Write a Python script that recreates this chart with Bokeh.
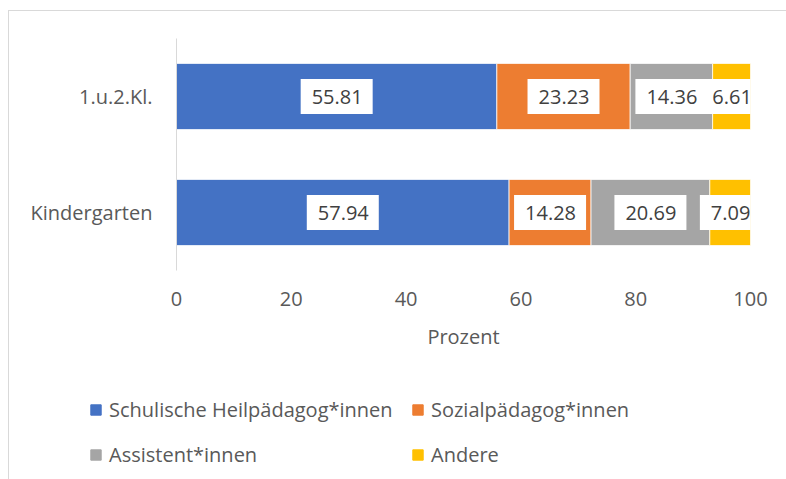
from bokeh.plotting import figure
from bokeh.models import Range1d, FactorRange, Legend, LegendItem, ColumnDataSource, FixedTicker
from bokeh.core.properties import value
from bokeh.embed import file_html
from bokeh.resources import INLINE

# ---- data ----
categories = ["Kindergarten", "1.u.2.Kl."]
series_names = ["Schulische Heilpädagog*innen", "Sozialpädagog*innen", "Assistent*innen", "Andere"]
schulische = [57.94, 55.81]
sozial = [14.28, 23.23]
assistent = [20.69, 14.36]
andere = [7.09, 6.61]
x_ticks = [0, 20, 40, 60, 80, 100]
x_label = "Prozent"

# ---- style ----
colors = ["#4472C4", "#ED7D31", "#A5A5A5", "#FFC000"]
FONT = "Open Sans"
GRAY = "#595959"
FS = "20px"
LINE = "#D9D9D9"

keys = ["s0", "s1", "s2", "s3"]
series = [schulische, sozial, assistent, andere]
src = ColumnDataSource(dict(cat=categories, **{k: v for k, v in zip(keys, series)}))

p = figure(width=786, height=370,
           y_range=FactorRange(*categories), x_range=Range1d(0, 100),
           output_backend="svg", toolbar_location=None,
           min_border_left=176, min_border_right=36,
           min_border_top=38, min_border_bottom=100)
p.border_fill_alpha = 0
p.background_fill_color = "white"
p.styles = {
    "background": (f"linear-gradient({LINE},{LINE}) 8px 10px / 100% 1px no-repeat, "
                   f"linear-gradient({LINE},{LINE}) 8px 10px / 1px 100% no-repeat, white"),
}

renderers = p.hbar_stack(keys, y="cat", height=0.57, color=colors, source=src,
                         line_color="white", line_width=0.75)

# data labels
for i, vals in enumerate(series):
    lefts = [sum(s[j] for s in series[:i]) for j in range(len(categories))]
    centers = [l + v / 2 for l, v in zip(lefts, vals)]
    p.text(x=centers, y=categories, text=[f"{v:.2f}" for v in vals],
           text_font=value(FONT), text_font_size=FS, text_color="#404040",
           text_align="center", text_baseline="middle",
           background_fill_color="white", padding=(11, 10, 11, 10))

# axes
xa = p.xaxis[0]
xa.ticker = FixedTicker(ticks=x_ticks)
xa.axis_line_color = None
xa.major_tick_line_color = None
xa.minor_tick_line_color = None
xa.major_tick_out = 0
xa.major_tick_in = 0
xa.major_label_standoff = 21
xa.major_label_text_font = FONT
xa.major_label_text_font_size = FS
xa.major_label_text_color = GRAY
xa.axis_label = x_label
xa.axis_label_text_font = FONT
xa.axis_label_text_font_size = FS
xa.axis_label_text_color = GRAY
xa.axis_label_text_font_style = "normal"
xa.axis_label_standoff = 14

ya = p.yaxis[0]
ya.axis_line_color = LINE
ya.major_tick_line_color = None
ya.minor_tick_line_color = None
ya.major_tick_out = 0
ya.major_tick_in = 0
ya.major_label_standoff = 24
ya.major_label_text_font = FONT
ya.major_label_text_font_size = FS
ya.major_label_text_color = GRAY

p.xgrid.grid_line_color = None
p.ygrid.grid_line_color = None
p.outline_line_color = None

# ---- legend area: a second root figure whose frame covers it, so nothing is clipped ----
q = figure(width=786, height=109, x_range=Range1d(0, 100), y_range=FactorRange(*categories),
           x_axis_type=None, y_axis_type=None, min_border=0,
           output_backend="svg", toolbar_location=None)
q.border_fill_alpha = 0
q.background_fill_alpha = 0
q.outline_line_color = None
q.xgrid.grid_line_color = None
q.ygrid.grid_line_color = None
q.styles = {
    "background": f"linear-gradient({LINE},{LINE}) 8px 0px / 1px 100% no-repeat, white",
}
# hidden copies of the same stacked bars, used only as legend swatches
proxies = q.hbar_stack(keys, y="cat", height=0.57, color=colors, source=src, visible=False)


def make_legend(idx, loc):
    return Legend(items=[LegendItem(label=series_names[i], renderers=[proxies[i]]) for i in idx],
                  orientation="horizontal", location=loc,
                  glyph_width=13, glyph_height=13, label_standoff=7, spacing=8,
                  label_width=294, padding=0, margin=0,
                  border_line_color=None, background_fill_alpha=0,
                  label_text_font=FONT, label_text_font_size=FS, label_text_color=GRAY)


q.add_layout(make_legend([0, 1], (89, 56)))
q.add_layout(make_legend([2, 3], (89, 11)))

open("out.html", "w").write(file_html([p, q], INLINE))
